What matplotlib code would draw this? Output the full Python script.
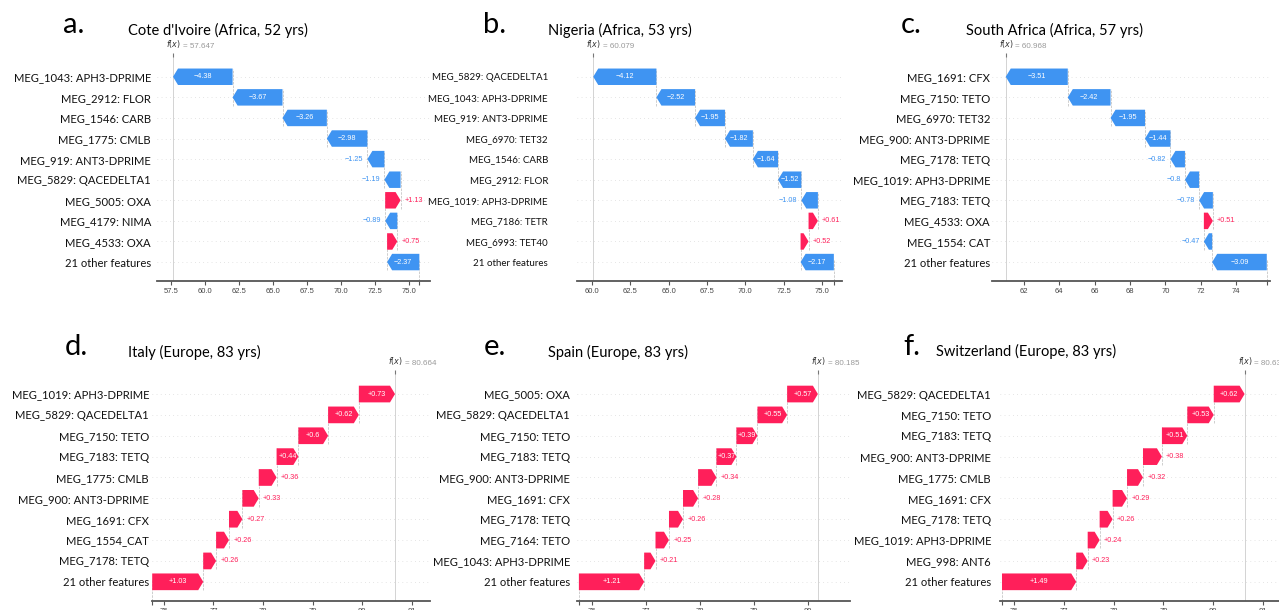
import numpy as np
import matplotlib
matplotlib.use("Agg")
import matplotlib.pyplot as plt
from matplotlib.ticker import MultipleLocator, FormatStrFormatter

# ---- data -------------------------------------------------------------
letters = ["a.", "b.", "c.", "d.", "e.", "f."]
titles = ["Cote d'Ivoire (Africa, 52 yrs)", "Nigeria (Africa, 53 yrs)",
          "South Africa (Africa, 57 yrs)", "Italy (Europe, 83 yrs)",
          "Spain (Europe, 83 yrs)", "Switzerland (Europe, 83 yrs)"]
fx_values = [57.647, 60.079, 60.968, 80.664, 80.185, 80.630]

feat_a = ["MEG_1043: APH3-DPRIME", "MEG_2912: FLOR", "MEG_1546: CARB", "MEG_1775: CMLB",
          "MEG_919: ANT3-DPRIME", "MEG_5829: QACEDELTA1", "MEG_5005: OXA", "MEG_4179: NIMA",
          "MEG_4533: OXA", "21 other features"]
shap_a = [-4.38, -3.67, -3.26, -2.98, -1.25, -1.19, 1.13, -0.89, 0.75, -2.37]

feat_b = ["MEG_5829: QACEDELTA1", "MEG_1043: APH3-DPRIME", "MEG_919: ANT3-DPRIME",
          "MEG_6970: TET32", "MEG_1546: CARB", "MEG_2912: FLOR", "MEG_1019: APH3-DPRIME",
          "MEG_7186: TETR", "MEG_6993: TET40", "21 other features"]
shap_b = [-4.12, -2.52, -1.95, -1.82, -1.64, -1.52, -1.08, 0.61, 0.52, -2.17]

feat_c = ["MEG_1691: CFX", "MEG_7150: TETO", "MEG_6970: TET32", "MEG_900: ANT3-DPRIME",
          "MEG_7178: TETQ", "MEG_1019: APH3-DPRIME", "MEG_7183: TETQ", "MEG_4533: OXA",
          "MEG_1554: CAT", "21 other features"]
shap_c = [-3.51, -2.42, -1.95, -1.44, -0.82, -0.80, -0.78, 0.51, -0.47, -3.09]

feat_d = ["MEG_1019: APH3-DPRIME", "MEG_5829: QACEDELTA1", "MEG_7150: TETO", "MEG_7183: TETQ",
          "MEG_1775: CMLB", "MEG_900: ANT3-DPRIME", "MEG_1691: CFX", "MEG_1554_CAT",
          "MEG_7178: TETQ", "21 other features"]
shap_d = [0.73, 0.62, 0.60, 0.44, 0.36, 0.33, 0.27, 0.26, 0.26, 1.03]

feat_e = ["MEG_5005: OXA", "MEG_5829: QACEDELTA1", "MEG_7150: TETO", "MEG_7183: TETQ",
          "MEG_900: ANT3-DPRIME", "MEG_1691: CFX", "MEG_7178: TETQ", "MEG_7164: TETO",
          "MEG_1043: APH3-DPRIME", "21 other features"]
shap_e = [0.57, 0.55, 0.39, 0.37, 0.34, 0.28, 0.26, 0.25, 0.21, 1.21]

feat_f = ["MEG_5829: QACEDELTA1", "MEG_7150: TETO", "MEG_7183: TETQ", "MEG_900: ANT3-DPRIME",
          "MEG_1775: CMLB", "MEG_1691: CFX", "MEG_7178: TETQ", "MEG_1019: APH3-DPRIME",
          "MEG_998: ANT6", "21 other features"]
shap_f = [0.62, 0.53, 0.51, 0.38, 0.32, 0.29, 0.26, 0.24, 0.23, 1.49]

features = [feat_a, feat_b, feat_c, feat_d, feat_e, feat_f]
shap_vals = [shap_a, shap_b, shap_c, shap_d, shap_e, shap_f]

# ---- layout (pixels of the 1279x610 figure) ---------------------------
W, H = 1279, 610
axes_px = [(157, 430, 57, 281), (577, 842, 57, 281), (992, 1270, 57, 281),
           (152, 430, 374, 601), (577, 850, 374, 601), (1000, 1280, 374, 601)]
xlims = [(56.47, 76.54), (59.02, 76.30), (60.19, 75.92),
         (75.76, 81.37), (75.72, 80.78), (75.72, 81.34)]
tick_steps = [2.5, 2.5, 2, 1, 1, 1]
tick_fmt = ["%.1f", "%.1f", "%d", "%d", "%d", "%d"]
label_right = [151, 548, 990, 149, 570, 991]
label_size = [8.1, 7.0, 8.1, 8.1, 8.1, 8.1]
letter_pos = [(63, 25), (483, 25), (901, 25), (65, 347), (484, 347), (903, 347)]
title_pos = [(128, 30), (548, 30), (966, 30), (128, 352), (548, 352), (936, 351)]

RED = "#ff1f5a"
BLUE = "#3f94f2"
NUM_FONT = "Liberation Sans"
head_px = 5.0
min_inside_px = 19.4   # narrower arrows get their value written beside them

fig = plt.figure(figsize=(W / 100, H / 100), dpi=100)


def fmt(v):
    s = "%+0.2f" % v
    s = s.rstrip("0").rstrip(".")
    return s.replace("-", "\u2212")


for k in range(6):
    x0, x1, y0, y1 = axes_px[k]
    ax = fig.add_axes([x0 / W, 1 - y1 / H, (x1 - x0) / W, (y1 - y0) / H])
    vals = shap_vals[k]
    feats = features[k]
    fx = fx_values[k]
    n = len(vals)
    base = fx - sum(vals)

    ax.set_xlim(*xlims[k])
    ax.set_ylim(n - 0.08, -0.96)
    px_per_unit = (x1 - x0) / (xlims[k][1] - xlims[k][0])
    hl = head_px / px_per_unit

    # bar starting points: bottom row starts at the base value
    lefts = [0.0] * n
    cur = base
    for i in reversed(range(n)):
        lefts[i] = cur
        cur += vals[i]

    for i in range(n):
        ax.axhline(i, color="#cccccc", lw=0.5, dashes=(1, 5), zorder=-1)

    ax.axvline(fx, color="#cccccc", lw=0.6, zorder=-1)
    ax.axvline(base, 0, 1.0 / (n + 0.88), color="#bbbbbb", lw=0.5, ls="--", zorder=-1)

    for i in range(n):
        v = vals[i]
        col = RED if v > 0 else BLUE
        dist = abs(v)
        ax.arrow(lefts[i], i, v, 0, width=0.8, head_width=0.8,
                 head_length=min(dist, hl), length_includes_head=True,
                 color=col, lw=0, zorder=2)
        if i > 0:
            end = lefts[i] + v
            ax.plot([end, end], [i + 0.4, i - 1 - 0.4], color="#bbbbbb",
                    ls="--", lw=0.5, zorder=-1)

        if dist * px_per_unit >= min_inside_px:
            ax.text(lefts[i] + v / 2, i, fmt(v), ha="center", va="center",
                    color="white", fontsize=5.2, family=NUM_FONT, zorder=3)
        elif v > 0:
            ax.annotate(fmt(v), (lefts[i] + v, i), xytext=(3, 0),
                        textcoords="offset points", ha="left", va="center",
                        color=RED, fontsize=5.2, family=NUM_FONT)
        else:
            ax.annotate(fmt(v), (lefts[i] + v, i), xytext=(-3, 0),
                        textcoords="offset points", ha="right", va="center",
                        color=BLUE, fontsize=5.2, family=NUM_FONT)

    # axes styling
    for s in ["left", "right", "top"]:
        ax.spines[s].set_visible(False)
    ax.spines["bottom"].set_color("#555555")
    ax.spines["bottom"].set_linewidth(1.3)
    ax.xaxis.set_major_locator(MultipleLocator(tick_steps[k]))
    ax.xaxis.set_major_formatter(FormatStrFormatter(tick_fmt[k]))
    ax.set_xticks([base], minor=True)
    ax.tick_params(axis="x", which="both", length=3, width=0.8, color="#555555",
                   labelsize=5.5, labelcolor="#444444", pad=2)
    for lab in ax.get_xticklabels():
        lab.set_family(NUM_FONT)
    ax.set_yticks(range(n))
    ax.set_yticklabels(feats, fontsize=label_size[k], family="Lato", color="#111111")
    ax.tick_params(axis="y", length=0, pad=(x0 - label_right[k]) * 0.72)

    # f(x) marker at the top
    ax2 = ax.twiny()
    ax2.set_xlim(ax.get_xlim())
    ax2.set_xticks([fx])
    ax2.set_xticklabels([""])
    ax2.tick_params(axis="x", length=3, width=0.8, color="#777777")
    for s in ax2.spines.values():
        s.set_visible(False)
    ax.annotate("$f(x)$", (fx, 1), xycoords=("data", "axes fraction"),
                xytext=(0.5, 5), textcoords="offset points", ha="center",
                va="bottom", fontsize=5.8, color="#333333")
    ax.annotate("= %0.3f" % fx, (fx, 1), xycoords=("data", "axes fraction"),
                xytext=(7, 5), textcoords="offset points", ha="left",
                va="bottom", fontsize=5.8, color="#999999", family=NUM_FONT)

    fig.text(letter_pos[k][0] / W, 1 - letter_pos[k][1] / H, letters[k],
             fontsize=21, family="Lato", va="center", ha="left")
    fig.text(title_pos[k][0] / W, 1 - title_pos[k][1] / H, titles[k],
             fontsize=10.5, family="Lato", va="center", ha="left")

fig.savefig("out.png", dpi=100)
